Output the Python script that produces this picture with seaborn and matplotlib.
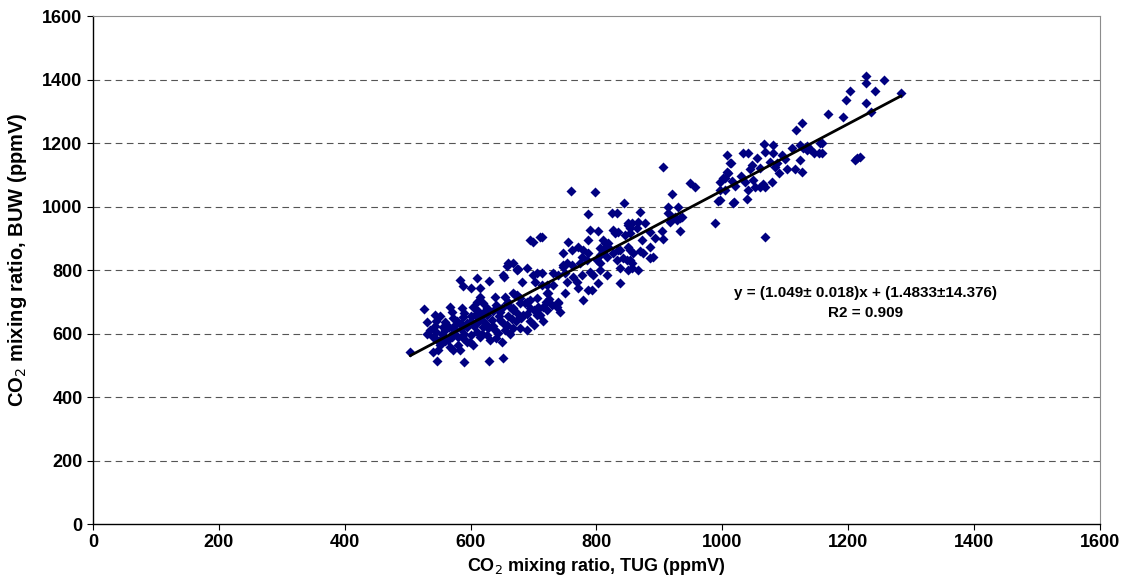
import numpy as np
import pandas as pd
import matplotlib
matplotlib.use("Agg")
import matplotlib.pyplot as plt
import seaborn as sns

# CO2 mixing ratio, TUG (ppmV) / BUW (ppmV)
tug = [504,526,543,530,543,559,556,572,575,588,594,607,615,626,634,647,658,671,678,686,694,705,667,674,683,705,
       647,651,658,667,678,690,620,628,639,643,610,615,599,604,631,650,540,547,556,564,572,580,588,594,580,583,
       551,548,540,567,572,547,589,629,651,690,707,710,
       583,588,610,629,653,682,699,601,615,639,615,610,567,570,586,604,620,626,658,674,660,667,675,
       560,565,575,585,595,600,605,612,590,600,620,625,578,585,555,545,535,530,620,635,640,600,590,612,660,665,
       545,552,560,570,618,626,636,645,655,662,640,672,680,695,700,715,690,700,720,725,730,
       787,825,833,850,857,790,802,834,829,694,699,710,755,787,845,853,864,814,818,761,771,747,779,787,806,810,
       826,837,853,858,777,785,753,761,774,801,806,833,848,856,837,850,856,866,651,674,705,713,731,739,747,750,
       753,763,777,790,794,806,817,802,769,702,713,721,731,787,793,771,837,723,739,737,779,667,674,655,659,678,
       690,694,705,715,721,667,663,650,742,747,750,739,721,
       906,1012,1009,1004,996,949,957,920,1004,993,1017,844,869,914,930,933,925,917,988,850,853,866,877,826,904,
       933,885,893,906,872,810,818,850,885,834,810,817,869,874,890,885,842,853,806,
       760,798,914,920,928,936,713,
       1168,1191,1126,1117,1066,1080,1123,1155,1007,1033,1041,1067,1080,1095,1110,1128,1134,1153,1013,1055,1075,
       1087,1084,1103,1116,1126,1123,1047,1044,1007,1001,1020,1036,1049,1052,1060,1068,1065,1079,1041,996,1039,
       1018,996,1214,
       1228,1228,1257,1203,1242,1196,1228,1284,1236,1158,1158,1211,1219,
       1068,1140,1145,1135,1100,1090,1060,1030,1015]
buw = [542,677,658,636,624,636,620,649,627,652,633,658,649,658,643,668,696,721,712,696,706,712,680,665,658,658,
       643,633,627,617,617,611,620,617,611,602,605,589,573,564,580,573,589,580,589,580,602,589,586,573,564,548,
       564,548,542,557,548,513,510,513,523,806,684,658,
       769,750,775,766,778,762,784,743,743,715,715,699,684,668,680,684,696,680,813,803,822,822,803,
       610,620,610,615,620,640,625,635,600,595,640,630,640,630,600,605,610,600,665,670,690,655,665,670,655,645,
       640,655,575,590,600,595,625,655,610,600,585,640,648,640,628,640,660,675,700,710,690,
       976,980,980,942,948,926,923,920,917,895,888,904,888,895,910,917,932,885,872,863,872,854,863,854,869,857,
       854,863,863,854,841,832,822,816,822,832,822,832,832,822,806,800,806,800,784,800,790,790,790,784,816,790,
       762,778,784,794,784,800,784,759,762,762,753,753,753,737,737,743,759,728,699,684,706,728,721,715,699,696,
       699,680,674,684,674,674,684,680,668,810,728,696,728,
       1124,1137,1105,1090,1077,1074,1061,1039,1052,1017,1011,1011,983,998,998,964,967,951,948,948,932,951,948,926,923,
       923,920,901,898,895,895,885,872,872,863,863,841,860,854,841,838,838,832,847,
       1049,1046,980,967,957,967,904,
       1291,1282,1263,1241,1197,1194,1194,1200,1162,1168,1168,1172,1168,1162,1184,1184,1178,1168,1137,1153,1140,
       1137,1124,1118,1118,1109,1146,1131,1118,1109,1090,1065,1077,1083,1061,1063,1061,1071,1077,1052,1052,1024,
       1014,1020,1153,
       1411,1389,1398,1364,1364,1335,1326,1357,1298,1200,1168,1146,1156,
       904,1180,1170,1190,1150,1105,1120,1095,1080]

# regression from the reference annotation
slope = 1.049
intercept = 1.4833
eq_lines = ["y = (1.049\u00b1 0.018)x + (1.4833\u00b114.376)", "R2 = 0.909"]

x_ticks = [0, 200, 400, 600, 800, 1000, 1200, 1400, 1600]
y_ticks = [0, 200, 400, 600, 800, 1000, 1200, 1400, 1600]

df = pd.DataFrame({"TUG": tug, "BUW": buw})

sns.set_style("white")
plt.rcParams['font.family'] = ['Liberation Sans', 'DejaVu Sans']
plt.rcParams['text.color'] = 'black'
plt.rcParams['axes.labelcolor'] = 'black'
plt.rcParams['xtick.color'] = 'black'
plt.rcParams['ytick.color'] = 'black'

fig = plt.figure(figsize=(11.23, 5.78), dpi=100)
ax = fig.add_axes([0.0828, 0.0934, 0.8967, 0.8789])

for yv in y_ticks[1:-1]:
    ax.axhline(yv, color="#555555", lw=0.8, ls=(0, (6, 4)), zorder=0)

sns.scatterplot(data=df, x="TUG", y="BUW", marker="D", color="#000080",
                s=26, linewidth=0, ax=ax, zorder=3)

lx = np.array([min(tug), max(tug)])
ax.plot(lx, slope * lx + intercept, color="black", lw=2, zorder=4)

ax.text(1228, 727, eq_lines[0], ha="center", va="center", fontsize=11, fontweight="bold", color="black")
ax.text(1228, 665, eq_lines[1], ha="center", va="center", fontsize=11, fontweight="bold", color="black")

ax.set_xlim(0, 1600)
ax.set_ylim(0, 1600)
ax.set_xticks(x_ticks)
ax.set_yticks(y_ticks)
ax.tick_params(axis="both", which="major", direction="out", length=4, width=0.8,
               labelsize=13, color="black", labelcolor="black", left=True, bottom=True)
for lab in ax.get_xticklabels() + ax.get_yticklabels():
    lab.set_fontweight("bold")

ax.set_xlabel("CO$_2$ mixing ratio, TUG (ppmV)", fontsize=13, fontweight="bold", color="black")
ax.set_ylabel("CO$_2$ mixing ratio, BUW (ppmV)", fontsize=14.5, fontweight="bold", color="black")
ax.xaxis.set_label_coords(0.5, -0.0846)
ax.xaxis.label.set_va("center")
ax.yaxis.set_label_coords(-0.0745, 0.52)
ax.yaxis.label.set_va("center")

for side in ["left", "bottom"]:
    ax.spines[side].set_color("black")
    ax.spines[side].set_linewidth(1.0)
for side in ["top", "right"]:
    ax.spines[side].set_visible(True)
    ax.spines[side].set_color("#8c8c8c")
    ax.spines[side].set_linewidth(0.8)

fig.savefig("out.png", dpi=100)
